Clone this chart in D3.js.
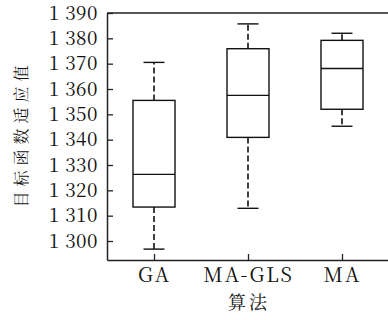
<!DOCTYPE html>
<html>
<head>
<meta charset="utf-8">
<script src="https://cdn.jsdelivr.net/npm/d3@7"></script>
<style>
  body { margin: 0; background: #fff; }
  svg text.num, svg text.cjk { font-family: "Noto Serif CJK SC", "Liberation Serif", serif; fill: #111; }
</style>
</head>
<body>
<svg id="chart" width="388" height="320"></svg>
<script>
// box plot data
const categories = ["GA", "MA-GLS", "MA"];
const whiskerLow = [1296.8, 1312.9, 1345.3];
const q1 = [1313.4, 1340.9, 1352.0];
const median = [1326.3, 1357.5, 1368.1];
const q3 = [1355.5, 1375.9, 1379.2];
const whiskerHigh = [1370.5, 1385.7, 1382.0];
const yTicks = [1300, 1310, 1320, 1330, 1340, 1350, 1360, 1370, 1380, 1390];

const plotLeft = 107, plotRight = 389, plotTop = 13, plotBottom = 260;

const svg = d3.select("#chart");

const x = d3.scaleLinear().domain([0.5, 3.5]).range([plotLeft, plotRight]);
const y = d3.scaleLinear().domain([1292.5, 1390]).range([plotBottom, plotTop]);

const fmt = d => String(d).replace(/^(\d)(\d{3})$/, "$1 $2");

// y axis
const yAxis = svg.append("g")
  .attr("transform", "translate(" + plotLeft + ",0)")
  .call(d3.axisLeft(y).tickValues(yTicks).tickFormat(fmt)
    .tickSizeInner(-6).tickSizeOuter(0).tickPadding(9));
yAxis.attr("font-family", null).attr("font-size", null);
yAxis.select(".domain").attr("stroke", "#222").attr("stroke-width", 1.5);
yAxis.selectAll(".tick line").attr("stroke", "#222").attr("stroke-width", 1.3);
yAxis.selectAll(".tick text").attr("class", "num")
  .style("font-size", "19px").style("letter-spacing", "0.5px").attr("fill", "#111");

// x axis
const xAxis = svg.append("g")
  .attr("transform", "translate(0," + plotBottom + ")")
  .call(d3.axisBottom(x).tickValues([1, 2, 3]).tickFormat((d, i) => categories[i])
    .tickSizeInner(-6).tickSizeOuter(0).tickPadding(8));
xAxis.attr("font-family", null).attr("font-size", null);
xAxis.select(".domain").attr("stroke", "#222").attr("stroke-width", 1.5);
xAxis.selectAll(".tick line").attr("stroke", "#222").attr("stroke-width", 1.3);
xAxis.selectAll(".tick text").attr("class", "num")
  .style("font-size", "20px").style("letter-spacing", "2px").attr("fill", "#111");

// top frame line
svg.append("line")
  .attr("x1", plotLeft).attr("x2", plotRight)
  .attr("y1", plotTop).attr("y2", plotTop)
  .attr("stroke", "#222").attr("stroke-width", 1.5);

const boxW = 42, capW = 21;
const g = svg.append("g").attr("fill", "none").attr("stroke", "#111").attr("stroke-width", 1.4);

categories.forEach((c, i) => {
  const cx = x(i + 1);
  // whiskers
  g.append("line").attr("x1", cx).attr("x2", cx)
    .attr("y1", y(q3[i])).attr("y2", y(whiskerHigh[i]))
    .attr("stroke-dasharray", "6,3").attr("stroke-width", 1.6);
  g.append("line").attr("x1", cx).attr("x2", cx)
    .attr("y1", y(q1[i])).attr("y2", y(whiskerLow[i]))
    .attr("stroke-dasharray", "6,3").attr("stroke-width", 1.6);
  // caps
  g.append("line").attr("x1", cx - capW / 2).attr("x2", cx + capW / 2)
    .attr("y1", y(whiskerHigh[i])).attr("y2", y(whiskerHigh[i]));
  g.append("line").attr("x1", cx - capW / 2).attr("x2", cx + capW / 2)
    .attr("y1", y(whiskerLow[i])).attr("y2", y(whiskerLow[i]));
  // box
  g.append("rect")
    .attr("x", cx - boxW / 2).attr("width", boxW)
    .attr("y", y(q3[i])).attr("height", y(q1[i]) - y(q3[i]));
  // median
  g.append("line").attr("x1", cx - boxW / 2).attr("x2", cx + boxW / 2)
    .attr("y1", y(median[i])).attr("y2", y(median[i]));
});

// axis titles
svg.append("text")
  .attr("class", "cjk")
  .attr("x", x(2) + 1).attr("y", 309)
  .attr("text-anchor", "middle")
  .style("font-size", "18px")
  .style("letter-spacing", "3px")
  .text("算法");

svg.append("text")
  .attr("class", "cjk")
  .attr("transform", "translate(27,134) rotate(-90)")
  .attr("text-anchor", "middle")
  .style("font-size", "16px")
  .style("letter-spacing", "5px")
  .text("目标函数适应值");
</script>
</body>
</html>
